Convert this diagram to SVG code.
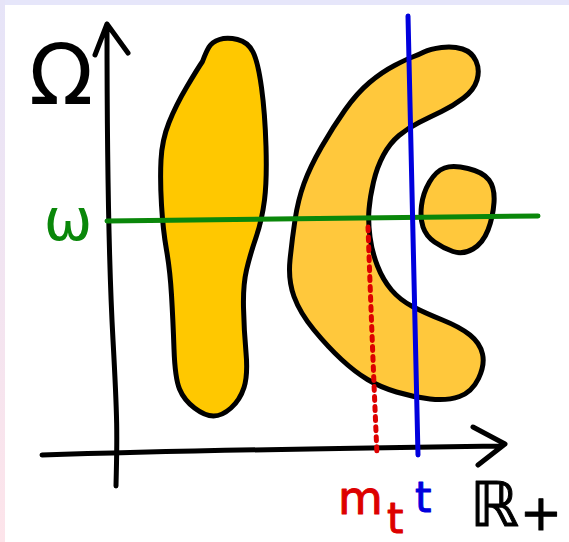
<svg xmlns="http://www.w3.org/2000/svg" width="569" height="542" viewBox="0 0 569 542">
<defs>
<linearGradient id="lb" x1="0" y1="0" x2="0" y2="1">
<stop offset="0" stop-color="#e6e4f8"/>
<stop offset="1" stop-color="#fde4ea"/>
</linearGradient>
</defs>
<style>
.ol{stroke:#000;stroke-width:5;stroke-linejoin:round;stroke-linecap:round}
.ln{fill:none;stroke-linecap:round;stroke-linejoin:round}
.tx{font-family:"DejaVu Sans","Liberation Sans",sans-serif;stroke-linejoin:round}
</style>
<rect x="0" y="0" width="569" height="542" fill="#ffffff"/>
<rect x="0" y="0" width="569" height="5" fill="#e6e6fa"/>
<rect x="0" y="0" width="5" height="542" fill="url(#lb)"/>
<g id="shapes">
<path id="blob-left" class="ol" fill="#ffc800" d="M209,47 Q212,42 219.5,39.5 Q227,37 237.5,39.5 Q248,42 253,52 Q258,62 261.5,87.5 Q265,113 266,146.5 Q267,180 264.5,200 Q262,220 256,237.5 Q250,255 246.5,270 Q243,285 243.5,307.5 Q244,330 246,352.5 Q248,375 244,387.5 Q240,400 231,408 Q222,416 213.5,416 Q205,416 194.5,408 Q184,400 179.5,389 Q175,378 174,349 Q173,320 171.5,295 Q170,270 166.5,250 Q163,230 161.5,205 Q160,180 161,160 Q162,140 169,122.5 Q176,105 187,86.5 Q198,68 202.5,61.5 Q206,52 209,47 Z"/>
<path id="blob-c" class="ol" fill="#ffc83c" d="M412.5,57 Q418,55 424,52 Q430,49 441.5,47.5 Q453,46 462.5,49 Q472,52 476,61 Q480,70 477,80 Q474,90 463.5,98 Q453,106 441.5,111.5 Q430,117 419,122.5 Q408,128 399,135.5 Q390,143 383.5,155 Q377,167 373.5,182 Q370,197 369,209.5 Q368,222 370,237 Q372,252 377.5,266 Q383,280 391.5,290 Q400,300 412.5,306.5 Q425,313 442.5,320 Q460,327 470,335 Q480,343 482.5,354 Q485,365 478.5,378.5 Q472,392 459.5,396.5 Q447,401 430,399 Q413,397 396.5,392 Q380,387 367.5,379.5 Q355,372 341.5,359.5 Q328,347 314,330 Q300,313 294,296.5 Q288,280 290,260 Q292,240 295,220 Q298,200 304,183.5 Q310,167 321.5,147 Q333,127 345,110 Q357,93 369.5,82.5 Q382,72 394.5,65.5 Q407,59 412.5,57 Z"/>
<path id="blob-small" class="ol" fill="#ffc83c" d="M444.5,168 Q453,165 468,168.5 Q483,172 489,180 Q495,188 494,202.5 Q493,217 488,230 Q483,243 473,249 Q463,255 453,251.5 Q443,248 434.5,242 Q426,236 423,227 Q420,218 421.5,205.5 Q423,193 429.5,182 Q436,171 444.5,168 Z"/>
</g>
<g id="lines">
<path id="y-axis" class="ln" stroke="#000" stroke-width="5" d="M107,24 C107,150 108,250 113,340 S117,440 116,486 M95,55 L107,24 L128,53"/>
<path id="x-axis" class="ln" stroke="#000" stroke-width="5" d="M42,455 Q200,450 500,446 M473,427 L505,444 L478,465"/>
<path id="omega-line" class="ln" stroke="#0a870a" stroke-width="5" d="M107,221 L538,216"/>
<path id="m-line" class="ln" stroke="#dd0000" stroke-width="5" stroke-dasharray="4 6" stroke-linecap="butt" d="M368,227 Q372,340 377,455"/>
<path id="t-line" class="ln" stroke="#0000dd" stroke-width="5" d="M408,16 Q412,200 418,455"/>
</g>
<g id="labels">
<text class="tx" x="61" y="104" font-size="84" text-anchor="middle" fill="#000">Ω</text>
<text class="tx" x="68" y="240" font-size="58" text-anchor="middle" fill="#0a870a">ω</text>
<text class="tx" x="338" y="514" font-size="46" fill="#dd0000" stroke="#dd0000" stroke-width="1">m</text>
<text class="tx" x="387" y="533" font-size="42" fill="#dd0000" stroke="#dd0000" stroke-width="1">t</text>
<text class="tx" x="415" y="512" font-size="42" fill="#0000dd" stroke="#0000dd" stroke-width="1">t</text>
<text class="tx" x="470" y="526" font-size="62" fill="#000" stroke="#000" stroke-width="1">ℝ</text>
<text class="tx" x="541" y="530" font-size="50" text-anchor="middle" fill="#000" stroke="#000" stroke-width="1">+</text>
</g>
</svg>
